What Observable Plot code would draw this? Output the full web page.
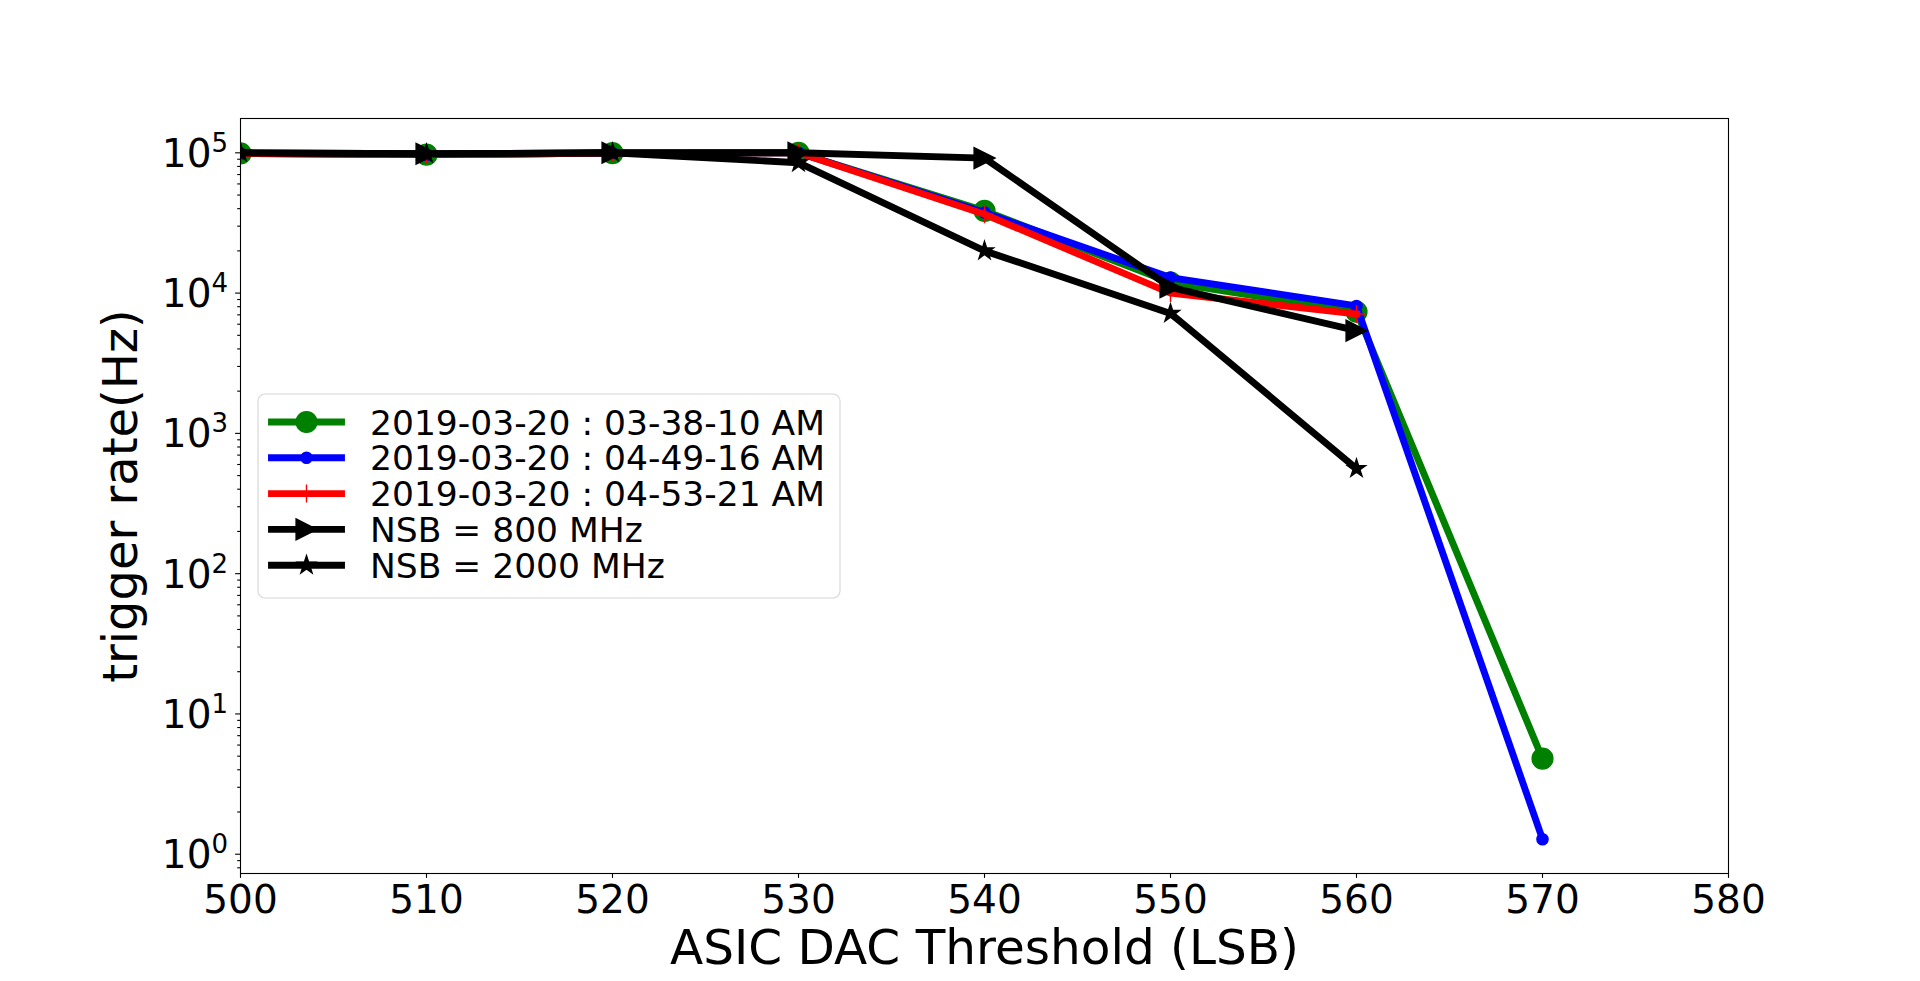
<!DOCTYPE html>
<html><head><meta charset="utf-8">
<script src="https://cdn.jsdelivr.net/npm/d3@7"></script>
<script src="https://cdn.jsdelivr.net/npm/@observablehq/plot@0.6"></script>
<style>
html,body{margin:0;padding:0;background:#fff;overflow:hidden;}
#wrap{position:relative;width:1920px;height:981px;font-family:"DejaVu Sans";}
#wrap svg{display:block;}
</style></head>
<body><div id="wrap"></div>
<script>
// ---- data ----
const thresholds = [500, 510, 520, 530, 540, 550, 560, 570];
const rateRun1 = [99000, 97000, 99500, 100000, 38600, 11900, 7360, 4.8];   // 2019-03-20 : 03-38-10 AM
const rateRun2 = [99000, 97000, 99500, 100000, 37500, 12900, 8100, 1.28];  // 2019-03-20 : 04-49-16 AM
const rateRun3 = [99000, 97000, 99500, 100000, 36500, 10000, 7100];        // 2019-03-20 : 04-53-21 AM
const rateNsb800 = [100000, 98500, 100000, 100000, 91700, 11000, 5400];     // NSB = 800 MHz
const rateNsb2000 = [100000, 98500, 100000, 85000, 20000, 7160, 561];       // NSB = 2000 MHz
const seriesNames = ["2019-03-20 : 03-38-10 AM", "2019-03-20 : 04-49-16 AM", "2019-03-20 : 04-53-21 AM", "NSB = 800 MHz", "NSB = 2000 MHz"];
const xTicks = [500, 510, 520, 530, 540, 550, 560, 570, 580];
const yDecades = [0, 1, 2, 3, 4, 5];
const xLabel = "ASIC DAC Threshold (LSB)";
const yLabel = "trigger rate(Hz)";

// ---- marker shapes (matplotlib-like) ----
const triRight = {draw(ctx, size){const r=Math.sqrt(size/Math.PI);ctx.moveTo(r,0);ctx.lineTo(-r,r);ctx.lineTo(-r,-r);ctx.closePath();}};
const star5 = {draw(ctx, size){const r=Math.sqrt(size/Math.PI), ri=r*0.381966;
  for(let k=0;k<10;k++){const a=-Math.PI/2+k*Math.PI/5, rr=k%2?ri:r; const px=rr*Math.cos(a), py=rr*Math.sin(a); k?ctx.lineTo(px,py):ctx.moveTo(px,py);} ctx.closePath();}};
const plusSym = {draw(ctx, size){const r=Math.sqrt(size/Math.PI);ctx.moveTo(-r,0);ctx.lineTo(r,0);ctx.moveTo(0,-r);ctx.lineTo(0,r);}};

const colors = ["#008000", "#0000ff", "#ff0000", "#000000", "#000000"];
const valueSets = [rateRun1, rateRun2, rateRun3, rateNsb800, rateNsb2000];
const markers = [
  {symbol: d3.symbolCircle, r: 10.4, fill: true},
  {symbol: d3.symbolCircle, r: 5.6, fill: true},
  {symbol: plusSym, r: 9, fill: false},
  {symbol: triRight, r: 10.4, fill: true},
  {symbol: star5, r: 9.5, fill: true}
];
const series = valueSets.map((vals, i) => ({
  name: seriesNames[i], color: colors[i], marker: markers[i],
  rows: vals.map((v, j) => ({x: thresholds[j], y: v}))
}));

// y domain like matplotlib autoscale on log axis (5% margins in log space)
const allVals = valueSets.flat();
const lmin = Math.log10(d3.min(allVals)), lmax = Math.log10(d3.max(allVals));
const pad = 0.05 * (lmax - lmin);
const yDomain = [10 ** (lmin - pad), 10 ** (lmax + pad)];
const minorTicks = [];
for (let e = -1; e <= 6; e++) for (let m = 2; m <= 9; m++) { const v = m * 10 ** e; if (v >= yDomain[0] && v <= yDomain[1]) minorTicks.push(v); }
const majorTicks = yDecades.map(d => 10 ** d);

const LW = 6.9;
const marks = [];
series.forEach(s => {
  marks.push(Plot.line(s.rows, {x: "x", y: "y", stroke: s.color, strokeWidth: LW, strokeLinejoin: "round", strokeLinecap: "square", clip: true}));
  marks.push(Plot.dot(s.rows, {x: "x", y: "y", symbol: s.marker.symbol, r: s.marker.r,
    fill: s.marker.fill ? s.color : "none", stroke: s.color, strokeWidth: 1.4, clip: true}));
});
marks.push(
  Plot.axisY({ticks: minorTicks, tickSize: 2.8, tickFormat: () => "", label: null, strokeWidth: 1.1}),
  Plot.axisY({ticks: majorTicks, tickSize: 4.9, tickFormat: () => "", label: null, strokeWidth: 1.1}),
  Plot.axisX({ticks: xTicks, tickSize: 4.9, tickFormat: () => "", label: null, strokeWidth: 1.1}),
  Plot.text(xTicks, {x: d => d, frameAnchor: "bottom", text: d => String(d), dy: 39, lineAnchor: "bottom", fontSize: 39}),
  Plot.text(yDecades, {y: d => 10 ** d, frameAnchor: "left", text: () => "10", textAnchor: "end", dx: -29, dy: 14, lineAnchor: "bottom", fontSize: 39}),
  Plot.text(yDecades, {y: d => 10 ** d, frameAnchor: "left", text: d => String(d), textAnchor: "start", dx: -29, dy: -1, lineAnchor: "bottom", fontSize: 26}),
  Plot.text([xLabel], {frameAnchor: "bottom", text: d => d, dy: 90, lineAnchor: "bottom", textAnchor: "middle", fontSize: 48.5}),
  Plot.text([yLabel], {frameAnchor: "left", text: d => d, rotate: -90, dx: -104, lineAnchor: "bottom", textAnchor: "middle", fontSize: 48}),
  Plot.frame({stroke: "black", strokeWidth: 1.1})
);

const chart = Plot.plot({
  width: 1920, height: 981,
  marginLeft: 240, marginRight: 192, marginTop: 118, marginBottom: 108,
  style: {fontFamily: "DejaVu Sans", fontSize: "39px", color: "black", background: "white"},
  x: {domain: [500, 580]},
  y: {type: "log", domain: yDomain},
  marks
});
const wrap = document.getElementById("wrap");
wrap.appendChild(chart);

// ---- legend (inside axes) ----
const lg = d3.select(wrap).append("svg")
  .attr("width", 586).attr("height", 208)
  .style("position", "absolute").style("left", "256px").style("top", "392px");
lg.append("rect").attr("x", 2).attr("y", 2).attr("width", 582).attr("height", 204).attr("rx", 7)
  .attr("fill", "white").attr("fill-opacity", 0.8).attr("stroke", "#d6d6d6").attr("stroke-width", 1.1);
series.forEach((s, i) => {
  const cy = 30 + i * 35.8;
  lg.append("line").attr("x1", 15.5).attr("x2", 85.5).attr("y1", cy).attr("y2", cy)
    .attr("stroke", s.color).attr("stroke-width", LW).attr("stroke-linecap", "square");
  const m = s.marker;
  lg.append("path").attr("d", d3.symbol(m.symbol, Math.PI * m.r * m.r)())
    .attr("transform", `translate(50.5,${cy})`)
    .attr("fill", m.fill ? s.color : "none").attr("stroke", s.color).attr("stroke-width", 1.4);
  lg.append("text").attr("x", 114).attr("y", cy + 12.5).text(s.name)
    .attr("font-size", 34.5).attr("font-family", "DejaVu Sans").attr("fill", "black");
});
</script>
</body></html>
